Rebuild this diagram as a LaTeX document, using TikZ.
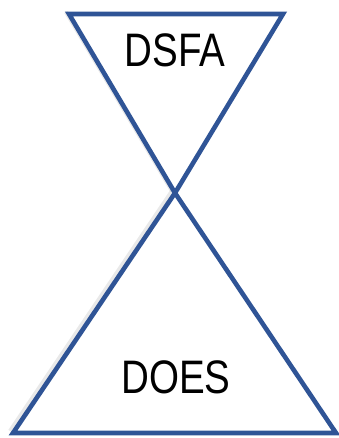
\documentclass[tikz,border=0pt]{standalone}
\usepackage{fontspec}
\setmainfont[FakeStretch=0.82]{Liberation Sans}
\definecolor{tri}{RGB}{47,84,150}
\begin{document}
\begin{tikzpicture}[x=1pt,y=-1pt,
  triline/.style={draw=tri,line width=4.6pt,line join=miter,fill=white},
  shade/.style={draw=black!25,line width=4pt,opacity=0.35},
  lbl/.style={font=\fontsize{47}{50}\selectfont,inner sep=0pt,anchor=base}]
\useasboundingbox (0,0) rectangle (339,438);
\coordinate (tl) at (69,14);
\coordinate (tr) at (283,14);
\coordinate (x) at (175,193);
\coordinate (bl) at (13,433);
\coordinate (br) at (336,433);
% soft shadows
\draw[shade] ([xshift=-3pt,yshift=2pt]tl) -- ([xshift=-3pt,yshift=2pt]x);
\draw[shade] ([xshift=-3pt,yshift=2pt]x) -- ([xshift=-3pt,yshift=2pt]bl);
\draw[triline] (tl) -- (tr) -- (x) -- cycle;
\draw[triline] (x) -- (br) -- (bl) -- cycle;
\node[lbl] (dsfa) at (175,67) {DSFA};
\node[lbl] (does) at (176,393) {DOES};
\end{tikzpicture}
\end{document}
